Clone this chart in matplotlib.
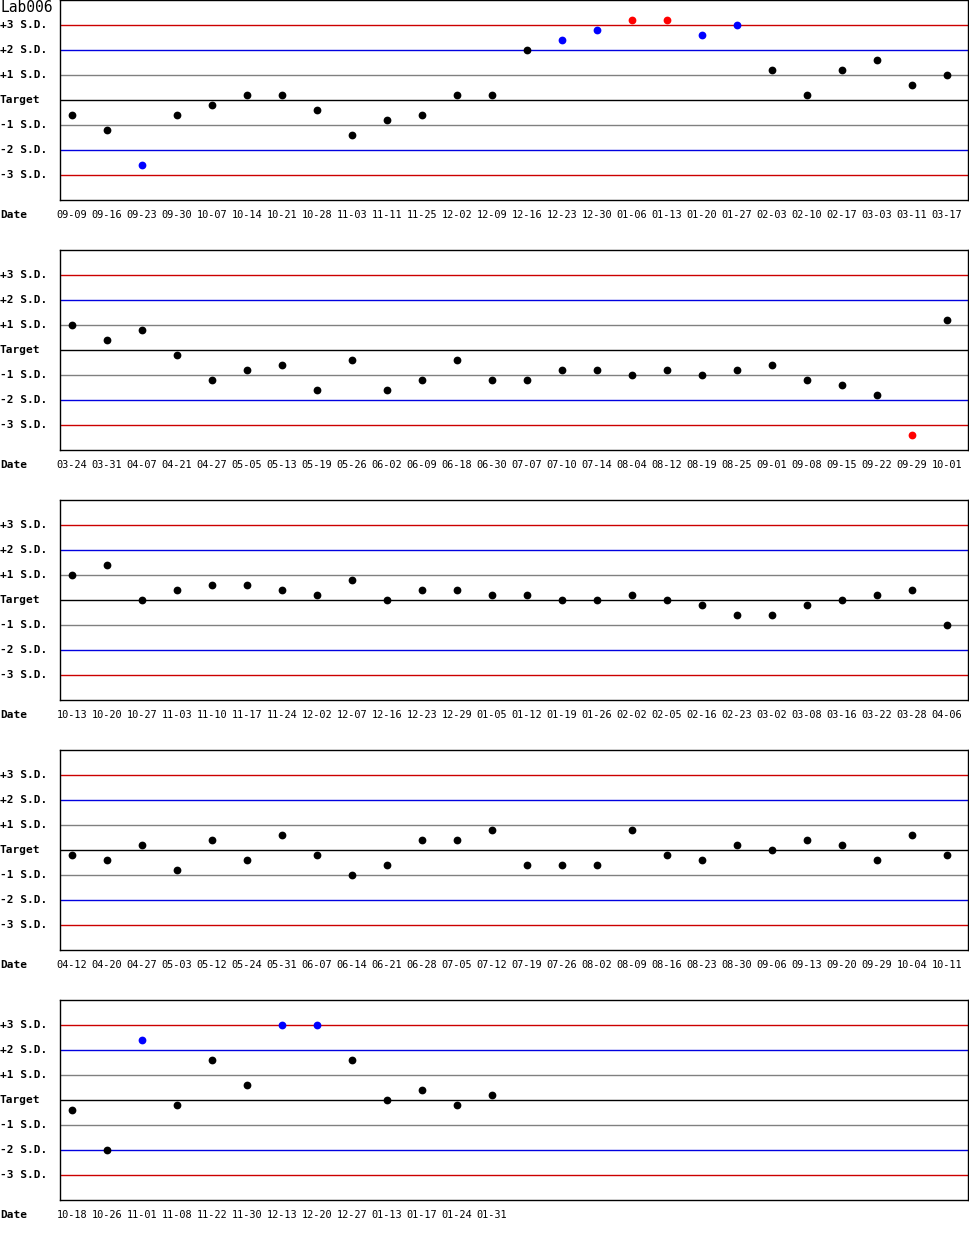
import matplotlib
matplotlib.use("Agg")
import matplotlib.pyplot as plt
from matplotlib.transforms import blended_transform_factory

# ---------------- data ----------------
dates1 = ["09-09", "09-16", "09-23", "09-30", "10-07", "10-14", "10-21", "10-28", "11-03",
          "11-11", "11-25", "12-02", "12-09", "12-16", "12-23", "12-30", "01-06", "01-13",
          "01-20", "01-27", "02-03", "02-10", "02-17", "03-03", "03-11", "03-17"]
values1 = [-0.6, -1.2, -2.6, -0.6, -0.2, 0.2, 0.2, -0.4, -1.4,
           -0.8, -0.6, 0.2, 0.2, 2.0, 2.4, 2.8, 3.2, 3.2,
           2.6, 3.0, 1.2, 0.2, 1.2, 1.6, 0.6, 1.0]

dates2 = ["03-24", "03-31", "04-07", "04-21", "04-27", "05-05", "05-13", "05-19", "05-26",
          "06-02", "06-09", "06-18", "06-30", "07-07", "07-10", "07-14", "08-04", "08-12",
          "08-19", "08-25", "09-01", "09-08", "09-15", "09-22", "09-29", "10-01"]
values2 = [1.0, 0.4, 0.8, -0.2, -1.2, -0.8, -0.6, -1.6, -0.4,
           -1.6, -1.2, -0.4, -1.2, -1.2, -0.8, -0.8, -1.0, -0.8,
           -1.0, -0.8, -0.6, -1.2, -1.4, -1.8, -3.4, 1.2]

dates3 = ["10-13", "10-20", "10-27", "11-03", "11-10", "11-17", "11-24", "12-02", "12-07",
          "12-16", "12-23", "12-29", "01-05", "01-12", "01-19", "01-26", "02-02", "02-05",
          "02-16", "02-23", "03-02", "03-08", "03-16", "03-22", "03-28", "04-06"]
values3 = [1.0, 1.4, 0.0, 0.4, 0.6, 0.6, 0.4, 0.2, 0.8,
           0.0, 0.4, 0.4, 0.2, 0.2, 0.0, 0.0, 0.2, 0.0,
           -0.2, -0.6, -0.6, -0.2, 0.0, 0.2, 0.4, -1.0]

dates4 = ["04-12", "04-20", "04-27", "05-03", "05-12", "05-24", "05-31", "06-07", "06-14",
          "06-21", "06-28", "07-05", "07-12", "07-19", "07-26", "08-02", "08-09", "08-16",
          "08-23", "08-30", "09-06", "09-13", "09-20", "09-29", "10-04", "10-11"]
values4 = [-0.2, -0.4, 0.2, -0.8, 0.4, -0.4, 0.6, -0.2, -1.0,
           -0.6, 0.4, 0.4, 0.8, -0.6, -0.6, -0.6, 0.8, -0.2,
           -0.4, 0.2, 0.0, 0.4, 0.2, -0.4, 0.6, -0.2]

dates5 = ["10-18", "10-26", "11-01", "11-08", "11-22", "11-30", "12-13", "12-20", "12-27",
          "01-13", "01-17", "01-24", "01-31"]
values5 = [-0.4, -2.0, 2.4, -0.2, 1.6, 0.6, 3.0, 3.0, 1.6,
           0.0, 0.4, -0.2, 0.2]

sd_levels = [3, 2, 1, 0, -1, -2, -3]
sd_labels = ["+3 S.D.", "+2 S.D.", "+1 S.D.", "Target", "-1 S.D.", "-2 S.D.", "-3 S.D."]
title = "Lab006"

panels = [(dates1, values1), (dates2, values2), (dates3, values3),
          (dates4, values4), (dates5, values5)]

# ---------------- style ----------------
W, H = 970, 1250
DPI = 100
FONT = "DejaVu Sans Mono"


def level_color(lv):
    a = abs(lv)
    if a == 3:
        return "#cc0000"
    if a == 2:
        return "#0000e0"
    if a == 1:
        return "#808080"
    return "#000000"


def point_color(v):
    a = abs(v)
    if a > 3:
        return "#ff0000"
    if a > 2:
        return "#0000ff"
    return "#000000"


fig = plt.figure(figsize=(W / DPI, H / DPI), dpi=DPI)
fig.patch.set_facecolor("white")

ax_left_px, ax_right_px = 60, 968
first_pt_px, step_px = 72, 35
panel_h_px, panel_gap_px = 200, 250

for k, (dates, vals) in enumerate(panels):
    top = panel_gap_px * k
    ax = fig.add_axes([ax_left_px / W, (H - top - panel_h_px) / H,
                       (ax_right_px - ax_left_px) / W, panel_h_px / H])
    ax.set_xlim((ax_left_px - first_pt_px) / step_px,
                (ax_right_px - first_pt_px) / step_px)
    ax.set_ylim(-4, 4)
    for s in ax.spines.values():
        s.set_linewidth(1.0)
        s.set_color("black")
    for lv in sd_levels:
        ax.axhline(lv, color=level_color(lv), lw=1.0, zorder=1)
    xs = list(range(len(vals)))
    for x, v in zip(xs, vals):
        ax.plot([x], [v], marker="o", ms=5.6, mew=0, color=point_color(v),
                linestyle="none", zorder=3)
    ax.set_xticks(xs)
    ax.set_xticklabels(dates, fontfamily=FONT, fontsize=7.4)
    ax.tick_params(axis="x", length=0, pad=7.5)
    ax.set_yticks([])
    tr = blended_transform_factory(fig.transFigure, ax.transData)
    for lv, lab in zip(sd_levels, sd_labels):
        ax.text(0.0, lv, lab, transform=tr, ha="left", va="center",
                fontfamily=FONT, fontsize=8, fontweight="bold", clip_on=False)
    fig.text(0.0, (H - top - 215) / H, "Date", ha="left", va="center",
             fontfamily=FONT, fontsize=8, fontweight="bold")

fig.text(0.0, (H - 8) / H, title, ha="left", va="center",
         fontfamily=FONT, fontsize=10.5)

fig.savefig("out.png", dpi=DPI, facecolor="white")
